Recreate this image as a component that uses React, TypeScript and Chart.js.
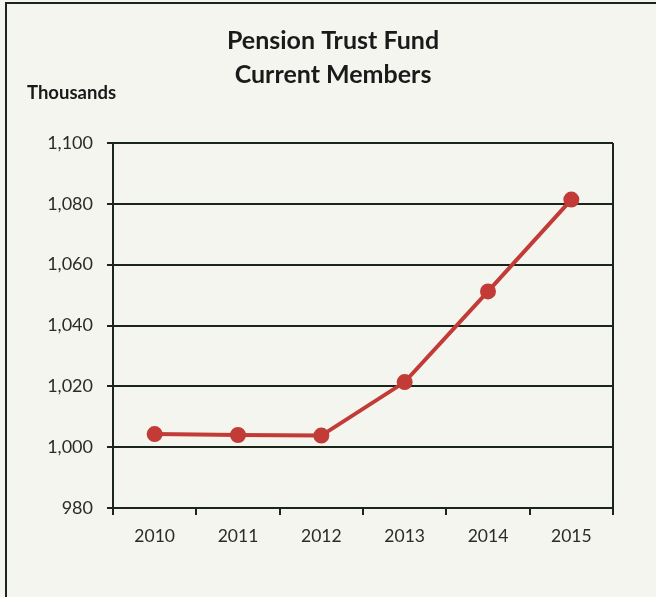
import React, { useEffect, useRef } from "react";
import { Chart, registerables } from "chart.js";

Chart.register(...registerables);

const years = ["2010", "2011", "2012", "2013", "2014", "2015"];
const members = [1004.3, 1004.0, 1003.8, 1021.4, 1051.2, 1081.4];
const titleLines = ["Pension Trust Fund", "Current Members"];
const unitLabel = "Thousands";

const INK = "#1c251c";
const TEXT = "#2b2b2b";
const BG = "#f4f5ee";
const RED = "#c23b36";

const textPlugin = {
  id: "textPlugin",
  afterDraw(chart: any) {
    const ctx = chart.ctx;
    const area = chart.chartArea;
    ctx.save();
    // right border of plot area
    ctx.strokeStyle = INK;
    ctx.lineWidth = 2;
    ctx.beginPath();
    ctx.moveTo(area.right, area.top);
    ctx.lineTo(area.right, area.bottom);
    ctx.stroke();
    // title
    ctx.fillStyle = "#1a1a1a";
    ctx.textAlign = "center";
    ctx.textBaseline = "middle";
    ctx.font = "bold 25px Lato";
    ctx.fillText(titleLines[0], 333, 41);
    ctx.fillText(titleLines[1], 333, 75);
    ctx.textAlign = "left";
    ctx.font = "bold 18.5px Lato";
    ctx.fillText(unitLabel, 27, 93);
    ctx.restore();
  },
};

export default function App() {
  const ref = useRef<HTMLCanvasElement>(null);
  useEffect(() => {
    if (!ref.current) return;
    const chart = new Chart(ref.current, {
      type: "line",
      data: {
        labels: years,
        datasets: [
          {
            data: members,
            borderColor: RED,
            backgroundColor: RED,
            borderWidth: 4,
            pointRadius: 6,
            pointHoverRadius: 6,
            pointBackgroundColor: RED,
            pointBorderColor: RED,
            tension: 0,
          },
        ],
      },
      options: {
        animation: false,
        responsive: false,
        events: [],
        layout: { padding: { left: 0, top: 143, right: 43, bottom: 0 } },
        plugins: { legend: { display: false }, tooltip: { enabled: false }, title: { display: false } },
        scales: {
          x: {
            offset: true,
            afterFit: (s: any) => { s.height = 89; },
            grid: { offset: true, drawOnChartArea: false, drawTicks: true, tickLength: 7, color: INK, lineWidth: 2 },
            border: { display: true, color: INK, width: 2 },
            ticks: { color: TEXT, font: { family: "Lato", size: 17.5 }, padding: 11 },
          },
          y: {
            min: 980,
            max: 1100,
            afterFit: (s: any) => { s.width = 113; },
            grid: { color: INK, lineWidth: 2, drawTicks: true, tickLength: 6 },
            border: { display: true, color: INK, width: 2 },
            ticks: {
              stepSize: 20,
              color: TEXT,
              font: { family: "Lato", size: 18 },
              padding: 14,
              callback: (v: any) => Number(v).toLocaleString("en-US"),
            },
          },
        },
      },
      plugins: [textPlugin],
    });
    return () => chart.destroy();
  }, []);
  return (
    <div style={{ position: "fixed", left: 0, top: 0, width: 656, height: 597, background: BG, overflow: "hidden" }}>
      <div style={{ position: "absolute", left: 5, top: 2, width: 700, height: 700, borderLeft: "2px solid #1c251c", borderTop: "2px solid #1c251c" }} />
      <canvas ref={ref} width={656} height={597} style={{ position: "absolute", left: 0, top: 0 }} />
    </div>
  );
}
